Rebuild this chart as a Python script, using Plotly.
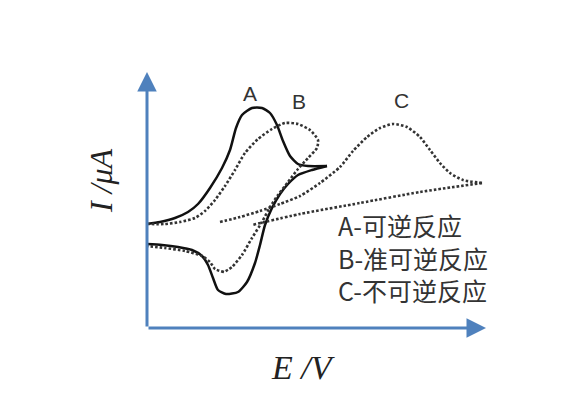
import plotly.graph_objects as go

# Schematic CV curves (pixel-like coordinates, y downwards)
a_fwd_x = [147, 160, 175, 188, 198, 210, 222, 230, 236, 242, 252, 262, 270, 277, 283, 290, 298, 308, 327]
a_fwd_y = [224, 222, 218, 212, 204, 188, 168, 150, 128, 115, 108, 108, 113, 125, 141, 156, 164, 166, 166]
a_rev_x = [327, 312, 298, 288, 280, 272, 265, 260, 255, 247, 238, 226, 218, 213, 208, 202, 192, 178, 162, 147]
a_rev_y = [166, 170, 175, 184, 194, 208, 225, 245, 263, 282, 292, 294, 290, 278, 265, 256, 250, 247, 245, 244]

b_fwd_x = [147, 165, 180, 195, 205, 215, 225, 235, 245, 258, 272, 285, 298, 310, 318, 317, 308, 298, 288, 278, 270, 262, 252, 242, 232, 224]
b_fwd_y = [224, 224, 222, 218, 211, 200, 186, 170, 153, 139, 129, 123, 124, 130, 140, 148, 158, 169, 182, 195, 207, 222, 238, 255, 267, 272]
b_rev_x = [224, 215, 210, 202, 185, 165, 147]
b_rev_y = [272, 269, 262, 256, 251, 248, 246]

c_fwd_x = [220, 240, 260, 280, 300, 320, 340, 353, 367, 380, 393, 407, 420, 430, 440, 450, 463, 482]
c_fwd_y = [222, 217, 211, 204, 196, 183, 167, 151, 137, 128, 124, 127, 137, 150, 163, 173, 180, 183]
c_rev_x = [482, 420, 360, 300, 252]
c_rev_y = [183, 192, 203, 214, 225]

curve_labels = ["A", "B", "C"]
curve_label_x = [250, 299, 401]
curve_label_y = [93, 101, 100]

legend_texts = ["A-可逆反应", "B-准可逆反应", "C-不可逆反应"]

axis_origin = (147, 328)
axis_y_tip = (147, 72)
axis_x_tip = (486, 328)

fig = go.Figure()

solid = dict(color="#111111", width=2.5, shape="spline", smoothing=0.6)
dotted = dict(color="#333333", width=2.6, dash="2.6px,2.0px", shape="spline", smoothing=0.6)

for xs, ys in [(a_fwd_x, a_fwd_y), (a_rev_x, a_rev_y)]:
    fig.add_trace(go.Scatter(x=xs, y=ys, mode="lines", line=solid, hoverinfo="skip", showlegend=False))
for xs, ys in [(b_fwd_x, b_fwd_y), (b_rev_x, b_rev_y), (c_fwd_x, c_fwd_y), (c_rev_x, c_rev_y)]:
    fig.add_trace(go.Scatter(x=xs, y=ys, mode="lines", line=dotted, hoverinfo="skip", showlegend=False))

annotations = []
# axes with arrows
for tip in [axis_y_tip, axis_x_tip]:
    annotations.append(dict(x=tip[0], y=tip[1], ax=axis_origin[0], ay=axis_origin[1],
                            xref="x", yref="y", axref="x", ayref="y", text="",
                            showarrow=True, arrowhead=2, arrowsize=1.3, arrowwidth=3,
                            arrowcolor="#4f81bd"))
for t, x, y in zip(curve_labels, curve_label_x, curve_label_y):
    annotations.append(dict(x=x, y=y, xref="x", yref="y", text=t, showarrow=False,
                            font=dict(family="Liberation Sans, Arial", size=21, color="#333333")))
annotations.append(dict(x=336, y=257, xref="x", yref="y", text="<br>".join(legend_texts),
                        showarrow=False, xanchor="left", yanchor="middle", align="left",
                        font=dict(family="Noto Sans CJK SC", size=25, color="#333333")))
annotations.append(dict(x=101, y=181, xref="x", yref="y", text="I /μA", showarrow=False,
                        textangle=-90,
                        font=dict(family="Liberation Serif", size=32, color="#222222", style="italic")))
annotations.append(dict(x=303, y=367, xref="x", yref="y", text="E /V", showarrow=False,
                        font=dict(family="Liberation Serif", size=34, color="#222222", style="italic")))

fig.update_layout(
    width=585, height=419,
    margin=dict(l=0, r=0, t=0, b=0),
    paper_bgcolor="white", plot_bgcolor="white",
    # page body has an 8px margin; shift ranges so picture pixels match data units
    xaxis=dict(range=[8, 593], visible=False, fixedrange=True),
    yaxis=dict(range=[427, 8], visible=False, fixedrange=True),
    annotations=annotations,
)

fig.write_html("out.html")
